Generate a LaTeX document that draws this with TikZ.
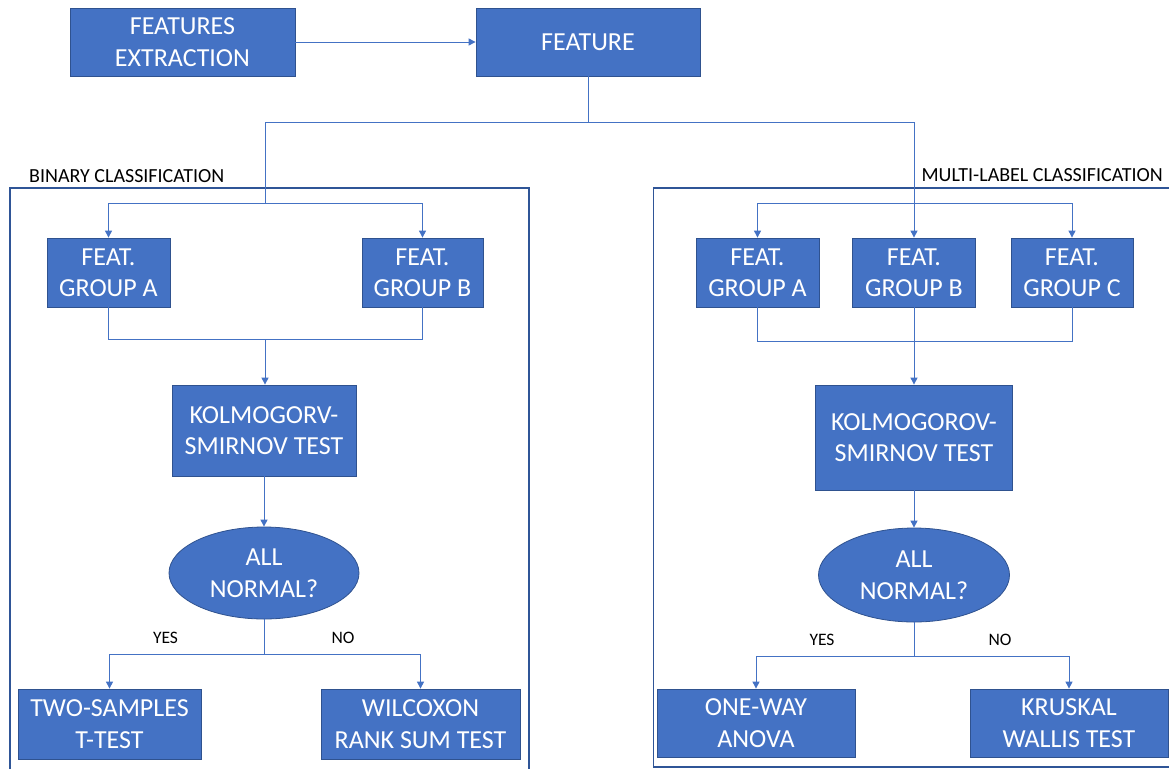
\documentclass[tikz,border=0pt]{standalone}
\usepackage{fontspec}
\setmainfont{Carlito}
\usetikzlibrary{arrows.meta,shapes.geometric}

\definecolor{BoxBlue}{RGB}{68,114,196}
\definecolor{BoxEdge}{RGB}{47,82,143}
\definecolor{FrameBlue}{RGB}{47,85,151}

\begin{document}
\begin{tikzpicture}[x=1pt,y=-1pt,
    box/.style={draw=BoxEdge,fill=BoxBlue,text=white,align=center,inner sep=0pt,
      font=\fontsize{26}{31.5}\selectfont,line width=0.8pt},
    dec/.style={ellipse,draw=BoxEdge,fill=BoxBlue,text=white,align=center,inner sep=0pt,
      font=\fontsize{26}{31.5}\selectfont,line width=0.8pt},
    link/.style={draw=BoxBlue,line width=1pt},
    arrow/.style={link,-{Triangle[length=7pt,width=7pt]}},
    frame/.style={draw=FrameBlue,line width=1.2pt},
    tag/.style={text=black,inner sep=0pt,font=\fontsize{20}{24}\selectfont},
    answer/.style={text=black,inner sep=0pt,font=\fontsize{17.5}{21}\selectfont}]
  \useasboundingbox (0,0) rectangle (1169,769);

  % top row
  \node[box,minimum width=225pt,minimum height=68pt] (fx) at (182.5,42) {FEATURES\\EXTRACTION};
  \node[box,minimum width=224pt,minimum height=68pt] (feat) at (588,42) {FEATURE};
  \draw[arrow] (fx) -- (feat);

  % frames
  \draw[frame] (10,769) -- (10,188) -- (529,188) -- (529,769);
  \draw[frame] (1169,188) -- (653.5,188) -- (653.5,767) -- (1169,767);
  \node[tag,anchor=base west] (bin) at (29,182) {BINARY CLASSIFICATION};
  \node[tag,anchor=base east] (multi) at (1163,181) {MULTI-LABEL CLASSIFICATION};

  % binary classification
  \node[box,minimum width=123pt,minimum height=69pt] (la) at (108.5,272.5) {FEAT.\\GROUP A};
  \node[box,minimum width=121pt,minimum height=69pt] (lb) at (422.5,272.5) {FEAT.\\GROUP B};
  \node[box,minimum width=184pt,minimum height=91pt] (lks) at (264,430.5) {KOLMOGORV-\\SMIRNOV TEST};
  \node[dec,minimum width=190pt,minimum height=92pt] (lnorm) at (264,573) {ALL\\NORMAL?};
  \node[box,minimum width=183pt,minimum height=70pt] (lt) at (109.5,724) {TWO-SAMPLES\\T-TEST};
  \node[box,minimum width=199pt,minimum height=70pt] (lw) at (420.5,724) {WILCOXON\\RANK SUM TEST};
  \node[answer] (lyes) at (165.5,638) {YES};
  \node[answer] (lno) at (343,638) {NO};

  % multi-label classification
  \node[box,minimum width=123pt,minimum height=69pt] (ra) at (757.5,272.5) {FEAT.\\GROUP A};
  \node[box,minimum width=123pt,minimum height=69pt] (rb) at (914,272.5) {FEAT.\\GROUP B};
  \node[box,minimum width=122pt,minimum height=69pt] (rc) at (1072,272.5) {FEAT.\\GROUP C};
  \node[box,minimum width=197pt,minimum height=105pt] (rks) at (914,437.5) {KOLMOGOROV-\\SMIRNOV TEST};
  \node[dec,minimum width=191pt,minimum height=94pt] (rnorm) at (914,575) {ALL\\NORMAL?};
  \node[box,minimum width=198pt,minimum height=68pt] (rone) at (756,723) {ONE-WAY\\ANOVA};
  \node[box,minimum width=198pt,minimum height=68pt] (rkr) at (1069,723) {KRUSKAL\\WALLIS TEST};
  \node[answer] (ryes) at (822,640) {YES};
  \node[answer] (rno) at (1000,640) {NO};

  % split from feature
  \coordinate (top) at (588,122);
  \coordinate (lin) at (265,203);
  \coordinate (rin) at (914,203);
  \draw[link] (feat.south) -- (top);
  \draw[link] (top) -| (lin);
  \draw[link] (top) -| (rin);
  \draw[arrow] (lin) -| (la.north);
  \draw[arrow] (lin) -| (lb.north);
  \draw[arrow] (rin) -| (ra.north);
  \draw[arrow] (rin) -- (rb.north);
  \draw[arrow] (rin) -| (rc.north);

  % merge into tests
  \coordinate (lmerge) at (265,339);
  \coordinate (rmerge) at (914,341);
  \draw[link] (la.south) |- (lmerge);
  \draw[link] (lb.south) |- (lmerge);
  \draw[arrow] (lmerge) -- (lmerge |- lks.north);
  \draw[link] (ra.south) |- (rmerge);
  \draw[link] (rc.south) |- (rmerge);
  \draw[link] (rb.south) -- (rmerge);
  \draw[arrow] (rmerge) -- (rks.north);

  \draw[arrow] (lks.south) -- (lnorm.north);
  \draw[arrow] (rks.south) -- (rnorm.north);

  % yes / no
  \coordinate (lsplit) at (264,654);
  \coordinate (rsplit) at (914,656);
  \draw[link] (lnorm.south) -- (lsplit);
  \draw[arrow] (lsplit) -| (lt.north);
  \draw[arrow] (lsplit) -| (lw.north);
  \draw[link] (rnorm.south) -- (rsplit);
  \draw[arrow] (rsplit) -| (rone.north);
  \draw[arrow] (rsplit) -| (rkr.north);
\end{tikzpicture}
\end{document}
